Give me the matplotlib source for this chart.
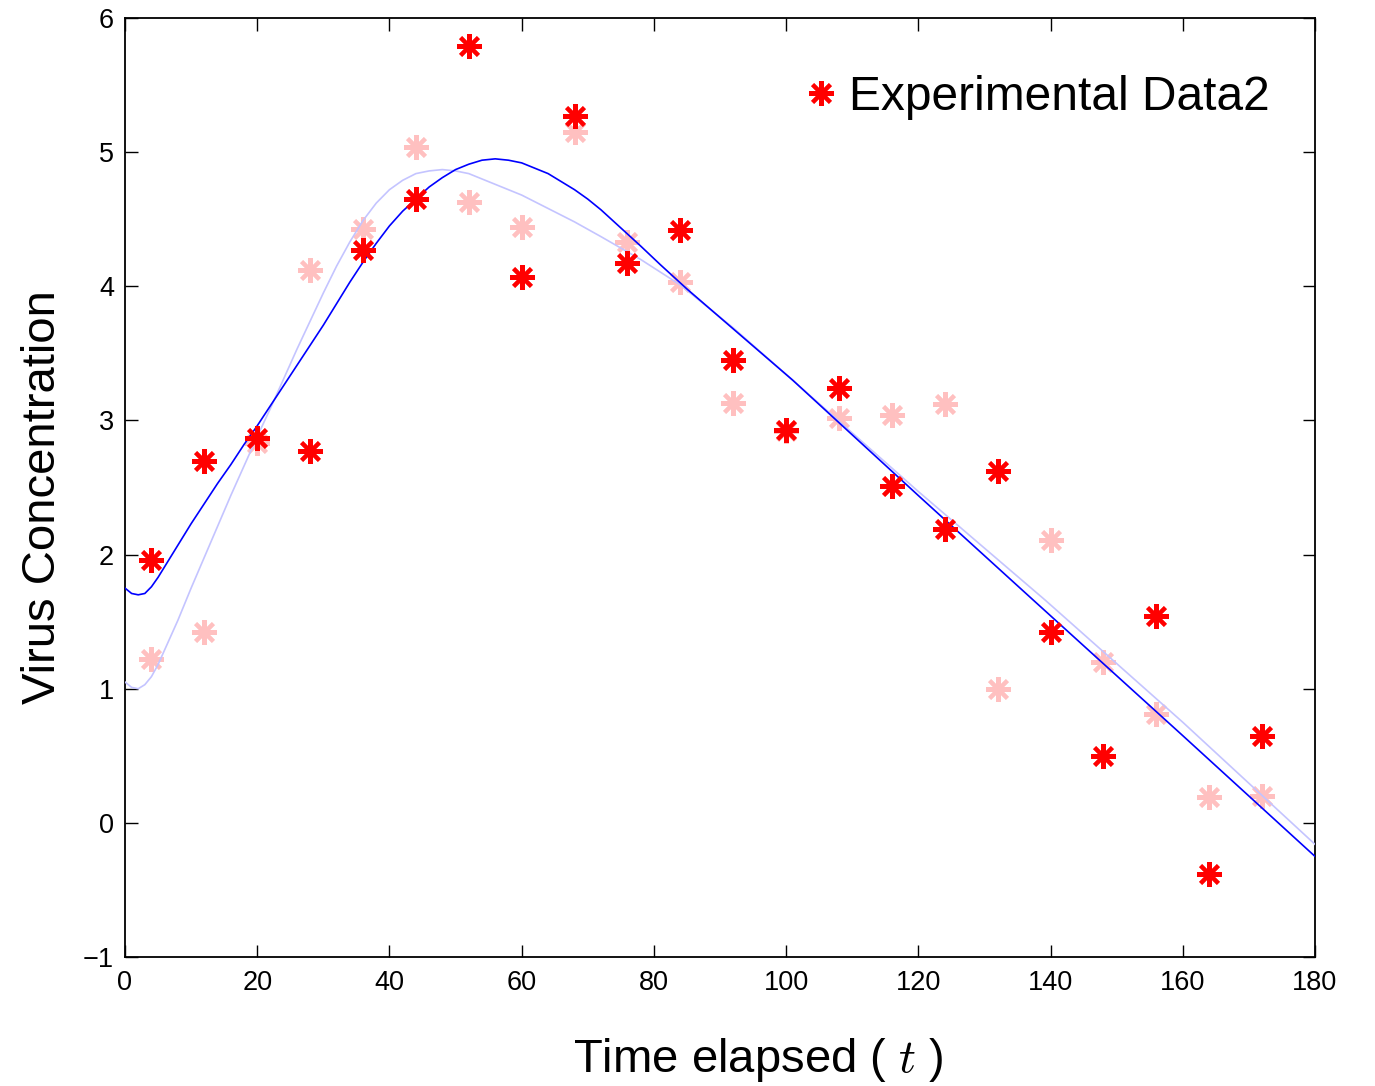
import matplotlib
matplotlib.use("Agg")
import matplotlib.pyplot as plt
from matplotlib.lines import Line2D

plt.rcParams['font.family'] = ['Liberation Sans', 'DejaVu Sans']
plt.rcParams['mathtext.fontset'] = 'cm'

# Experimental data (time points)
t_data = [4, 12, 20, 28, 36, 44, 52, 60, 68, 76, 84, 92, 100, 108, 116, 124,
          132, 140, 148, 156, 164, 172]
data2 = [1.96, 2.70, 2.87, 2.77, 4.27, 4.65, 5.79, 4.07, 5.27, 4.17, 4.42, 3.45,
         2.93, 3.24, 2.51, 2.19, 2.62, 1.42, 0.50, 1.54, -0.38, 0.65]
data1 = [1.22, 1.42, 2.83, 4.12, 4.43, 5.04, 4.63, 4.44, 5.15, 4.33, 4.03, 3.13,
         2.92, 3.02, 3.04, 3.12, 1.00, 2.11, 1.20, 0.81, 0.19, 0.20]

# Model fit curves
t_fit2 = [0, 1, 2, 3, 4, 5, 6, 7, 8, 9, 10, 12, 14, 16, 18, 20, 22, 24, 26,
          28, 30, 32, 34, 36, 38, 40, 42, 44, 46, 48, 50, 52, 54, 56, 58, 60,
          62, 64, 66, 68, 70, 72, 74, 76, 78, 81, 85, 101, 120, 137.4, 160, 180]
fit2 = [1.75, 1.71, 1.70, 1.71, 1.76, 1.83, 1.91, 1.99, 2.07, 2.15, 2.23,
        2.38, 2.53, 2.67, 2.82, 2.96, 3.11, 3.26, 3.41, 3.56, 3.71, 3.87, 4.03,
        4.18, 4.32, 4.45, 4.56, 4.65, 4.74, 4.81, 4.87, 4.91, 4.94, 4.95, 4.94,
        4.92, 4.88, 4.84, 4.78, 4.72, 4.65, 4.57, 4.48, 4.39, 4.30, 4.16, 3.98,
        3.30, 2.44, 1.66, 0.65, -0.25]

t_fit1 = [0, 1, 2, 3, 4, 5, 6, 7, 8, 9, 10, 12, 14, 16, 18, 20, 22, 24, 26,
          28, 30, 32, 34, 36, 38, 40, 42, 44, 46, 48, 50, 52, 54, 56, 58, 60,
          64, 68, 72, 78, 84, 92, 101, 120, 139.2, 160, 180]
fit1 = [1.05, 1.01, 1.00, 1.03, 1.09, 1.18, 1.29, 1.40, 1.51, 1.63, 1.75,
        1.98, 2.21, 2.44, 2.66, 2.88, 3.09, 3.31, 3.53, 3.74, 3.95, 4.15, 4.33,
        4.49, 4.62, 4.72, 4.79, 4.84, 4.86, 4.87, 4.86, 4.84, 4.80, 4.76, 4.72,
        4.68, 4.58, 4.48, 4.37, 4.20, 4.01, 3.69, 3.30, 2.47, 1.66, 0.75, -0.16]

xticks = [0, 20, 40, 60, 80, 100, 120, 140, 160, 180]
yticks = [-1, 0, 1, 2, 3, 4, 5, 6]

fig = plt.figure(figsize=(13.75, 10.86), dpi=100)
ax = fig.add_axes([125/1375, 1-957/1086, 1190/1375, 939/1086])

star = (8, 2, 0)
ax.plot(t_data, data1, linestyle='none', marker=star, ms=18, mew=2.9,
        color='#ffc0c0', zorder=2)
ax.plot(t_fit1, fit1, color='#c4c4ff', lw=1.2, zorder=3)
ax.plot(t_fit2, fit2, color='#0000ff', lw=1.2, zorder=4)
ax.plot(t_data, data2, linestyle='none', marker=star, ms=18, mew=2.9,
        color='#ff0000', zorder=5)

ax.set_xlim(0, 180)
ax.set_ylim(-1, 6)
ax.set_xticks(xticks)
ax.set_yticks(yticks)
ax.tick_params(direction='in', length=9, width=1, labelsize=19.5,
               top=True, right=True)
ax.tick_params(axis='x', pad=9)
ax.tick_params(axis='y', pad=8)
for s in ax.spines.values():
    s.set_linewidth(1.3)

fig.text(758/1375, 1-1060/1086, 'Time elapsed ( $t$ )', fontsize=34,
         ha='center', va='center')
fig.text(43/1375, 1-497/1086, 'Virus Concentration', fontsize=34,
         ha='center', va='center', rotation=90)

handle = Line2D([], [], linestyle='none', marker=star, ms=18, mew=2.9,
                color='#ff0000')
ax.legend([handle], ['Experimental Data2'], loc='upper right',
          bbox_to_anchor=(0.982, 0.965), frameon=False, fontsize=34.5,
          handlelength=0.8, handletextpad=0.18, borderpad=0)

fig.savefig('out.png', dpi=100)
